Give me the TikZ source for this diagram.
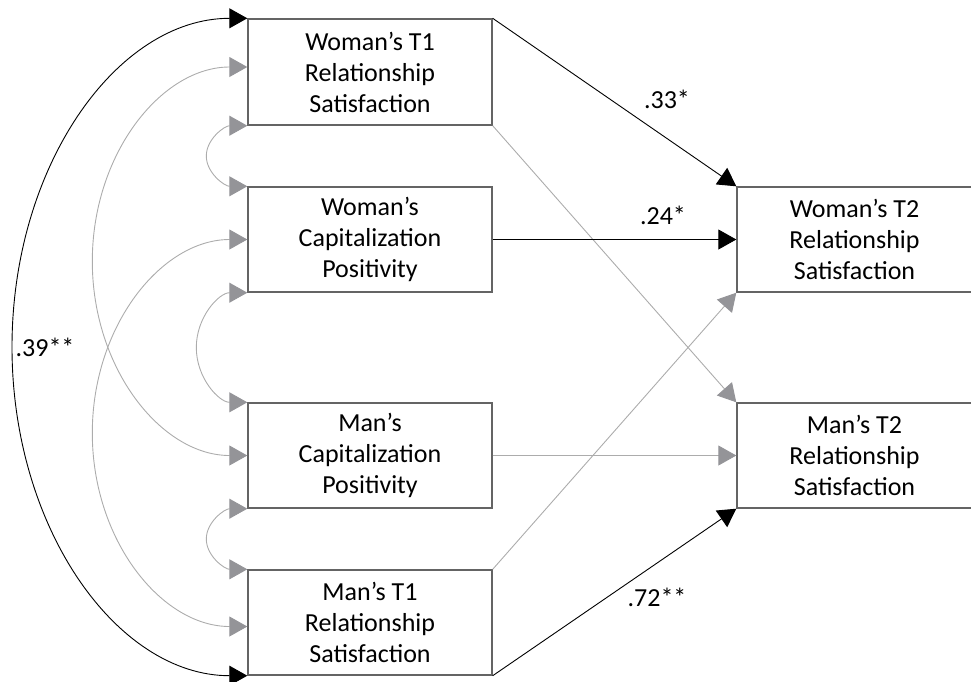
\documentclass[tikz,border=0pt]{standalone}
\usepackage{fontspec}
\setmainfont{Carlito}
\usetikzlibrary{arrows.meta,calc}
\definecolor{boxline}{RGB}{100,100,100}
\definecolor{pathgray}{RGB}{172,172,172}
\definecolor{tipgray}{RGB}{148,148,152}
\begin{document}
\begin{tikzpicture}[x=1pt,y=-1pt,
  box/.style={draw=boxline, line width=1.4pt, fill=white, minimum width=244pt,
    minimum height=105pt, align=center, inner sep=0pt,
    font=\fontsize{26}{31}\selectfont},
  rbox/.style={box, minimum width=235pt},
  lbl/.style={font=\fontsize{26}{31}\selectfont, inner sep=0pt},
  sigpath/.style={draw=black, line width=0.9pt, -{Triangle[length=18pt, width=20pt]}},
  nspath/.style={draw=pathgray, line width=0.9pt, -{Triangle[length=18pt, width=20pt, fill=tipgray, color=tipgray]}},
  sigcov/.style={draw=black, line width=0.9pt, {Triangle[length=18pt, width=20pt]}-{Triangle[length=18pt, width=20pt]}},
  nscov/.style={draw=pathgray, line width=0.9pt,
    {Triangle[length=18pt, width=20pt, fill=tipgray, color=tipgray]}-{Triangle[length=18pt, width=20pt, fill=tipgray, color=tipgray]}}
]
\useasboundingbox (0,0) rectangle (971,681);

% predictors at T1
\node[box, minimum height=106pt] (wt1) at (370,72) {Woman’s T1\\Relationship\\Satisfaction};
\node[box] (wcp) at (370,239.5) {Woman’s\\Capitalization\\Positivity};
\node[box] (mcp) at (370,455.5) {Man’s\\Capitalization\\Positivity};
\node[box] (mt1) at (370,622.5) {Man’s T1\\Relationship\\Satisfaction};

% outcomes at T2
\node[rbox] (wt2) at (854.5,239.5) {Woman’s T2\\Relationship\\Satisfaction};
\node[rbox] (mt2) at (854.5,455.5) {Man’s T2\\Relationship\\Satisfaction};

% regression paths
\draw[sigpath] (wt1.north east) -- (wt2.north west);
\draw[nspath]  (wt1.south east) -- (mt2.north west);
\draw[sigpath] (wcp.east) -- (wt2.west);
\draw[nspath]  (mcp.east) -- (mt2.west);
\draw[nspath]  (mt1.north east) -- (wt2.south west);
\draw[sigpath] (mt1.south east) -- (mt2.south west);

\node[lbl] (l33) at (667,99) {.33*};
\node[lbl] (l24) at (663,215) {.24*};
\node[lbl] (l72) at (657,597) {.72**};
\node[lbl] (l39) at (45,347) {.39**};

% covariances among T1 variables
\coordinate (wt1m) at ([yshift=5pt]wt1.west);
\coordinate (mt1m) at ([yshift=-4pt]mt1.west);

\coordinate (k1) at (12,347);
\draw[sigcov] (wt1.north west) .. controls +(-130.3,0) and +(0,-181.2) .. (k1)
  .. controls +(0,181.2) and +(-130.3,0) .. (mt1.south west);

\coordinate (k2) at ($(wt1m)!0.5!(mcp.west) + (-155,0)$);
\draw[nscov] (wt1m) .. controls +(-85.6,0) and +(0,-107.7) .. (k2)
  .. controls +(0,107.7) and +(-85.6,0) .. (mcp.west);

\coordinate (k3) at ($(wcp.west)!0.5!(mt1m) + (-155,0)$);
\draw[nscov] (wcp.west) .. controls +(-85.6,0) and +(0,-107.4) .. (k3)
  .. controls +(0,107.4) and +(-85.6,0) .. (mt1m);

\coordinate (k4) at ($(wt1.south west)!0.5!(wcp.north west) + (-41,0)$);
\draw[nscov] (wt1.south west) .. controls +(-22.6,0) and +(0,-17.1) .. (k4)
  .. controls +(0,17.1) and +(-22.6,0) .. (wcp.north west);

\coordinate (k5) at ($(wcp.south west)!0.5!(mcp.north west) + (-51,0)$);
\draw[nscov] (wcp.south west) .. controls +(-28.2,0) and +(0,-30.7) .. (k5)
  .. controls +(0,30.7) and +(-28.2,0) .. (mcp.north west);

\coordinate (k6) at ($(mcp.south west)!0.5!(mt1.north west) + (-41,0)$);
\draw[nscov] (mcp.south west) .. controls +(-22.6,0) and +(0,-17.1) .. (k6)
  .. controls +(0,17.1) and +(-22.6,0) .. (mt1.north west);
\end{tikzpicture}
\end{document}
